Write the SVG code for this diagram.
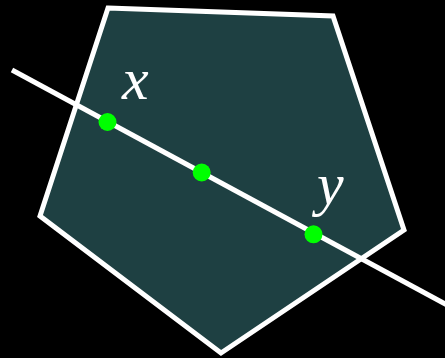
<svg xmlns="http://www.w3.org/2000/svg" width="445" height="358" viewBox="0 0 445 358">
<style>
.edge{fill:none;stroke:#ffffff;stroke-width:5}
.pt{fill:#00ff00}
.lbl{fill:#ffffff;font-family:"Liberation Serif","DejaVu Serif",serif;font-style:italic;font-size:60px}
</style>
<rect width="445" height="358" fill="#000000"/>
<g id="pentagon">
<polygon points="108,8 333,16 404,230 221,353 40,216" fill="#1e4042" stroke="#ffffff" stroke-width="5" stroke-linejoin="miter"/>
</g>
<g id="connectors">
<line class="edge" x1="12" y1="70" x2="447" y2="305"/>
</g>
<g id="point-x">
<circle class="pt" cx="107.5" cy="122" r="9"/>
<text class="lbl" x="122" y="99">x</text>
</g>
<g id="point-mid">
<circle class="pt" cx="201.7" cy="172.5" r="9"/>
</g>
<g id="point-y">
<circle class="pt" cx="313.5" cy="234.3" r="9"/>
<text class="lbl" x="317" y="204">y</text>
</g>
</svg>
